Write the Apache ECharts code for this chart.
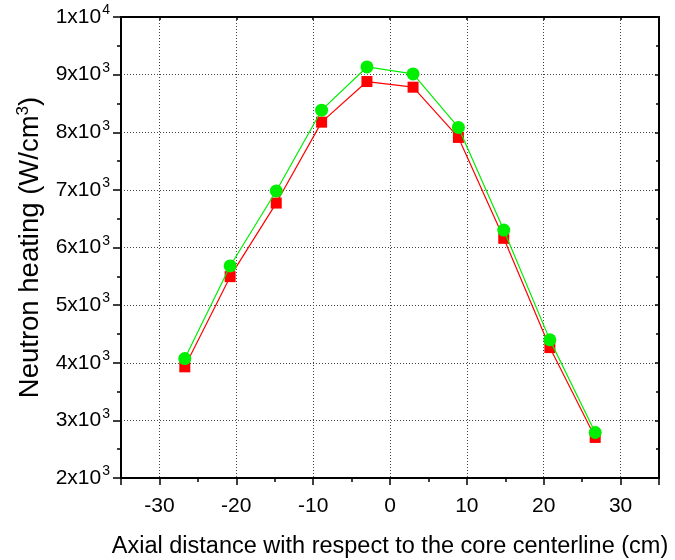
<!DOCTYPE html>
<html>
<head>
<meta charset="utf-8">
<script src="https://cdn.jsdelivr.net/npm/echarts@6/dist/echarts.min.js"></script>
<style>html,body{margin:0;padding:0;background:#fff;}#c{width:675px;height:560px;}</style>
</head>
<body>
<div id="c"></div>
<script>
const xValues = [-26.7, -20.8, -14.8, -8.9, -3, 3, 8.9, 14.8, 20.8, 26.7];
const greenValues = [4073, 5680, 6980, 8383, 9133, 9012, 8083, 6303, 4397, 2790];
const redValues = [3929, 5494, 6771, 8175, 8880, 8782, 7910, 6159, 4263, 2704];
const xTitle = 'Axial distance with respect to the core centerline (cm)';
const yTitleMain = 'Neutron heating (W/cm';

const FONT = 'Liberation Sans, Arial, sans-serif';
const chart = echarts.init(document.getElementById('c'), null, {renderer: 'canvas'});

function yLabel(v) {
  const e = Math.floor(Math.log10(v) + 1e-9);
  const m = Math.round(v / Math.pow(10, e));
  return '{b|' + m + 'x10}{s|' + e + '}';
}

const gridLine = {show: true, lineStyle: {color: '#444', width: 1, type: [1, 2]}};
const axisLineStyle = {show: true, onZero: false, lineStyle: {color: '#000', width: 2}};

chart.setOption({
  backgroundColor: '#fff',
  animation: false,
  grid: {left: 121, right: 16, top: 17, bottom: 82, containLabel: false, outerBoundsMode: 'none'},
  xAxis: [
    {
      type: 'value', min: -35, max: 35, splitNumber: 7, position: 'bottom',
      axisLine: axisLineStyle,
      axisTick: {show: true, inside: false, length: 7, lineStyle: {color: '#000', width: 1.5}},
      axisLabel: {show: true, margin: 18, fontFamily: FONT, fontSize: 21, color: '#000',
        formatter: v => (Math.abs(v % 10) < 1e-9 ? String(v) : '')},
      splitLine: gridLine,
      name: xTitle, nameLocation: 'middle', nameGap: 57,
      nameTextStyle: {fontFamily: FONT, fontSize: 23.5, color: '#000'}
    },
    {
      type: 'value', min: -35, max: 35, splitNumber: 7, position: 'top',
      axisLine: axisLineStyle,
      axisTick: {show: true, inside: true, length: 3, lineStyle: {color: '#000', width: 1.5}},
      axisLabel: {show: false}, splitLine: {show: false}
    },
    {
      type: 'value', min: -35, max: 35, interval: 5, position: 'bottom',
      axisLine: {show: false, onZero: false},
      axisTick: {show: true, inside: false, length: 4, lineStyle: {color: '#000', width: 1.5}},
      axisLabel: {show: false}, splitLine: {show: false}
    }
  ],
  yAxis: [
    {
      type: 'value', min: 2000, max: 10000, interval: 1000, position: 'left',
      axisLine: axisLineStyle,
      axisTick: {show: true, inside: false, length: 8, lineStyle: {color: '#000', width: 1.5}},
      minorTick: {show: true, splitNumber: 2, length: 4, lineStyle: {color: '#000', width: 1.5}},
      axisLabel: {show: true, margin: 11, formatter: yLabel,
        rich: {
          b: {fontFamily: FONT, fontSize: 21, color: '#000'},
          s: {fontFamily: FONT, fontSize: 14, color: '#000', padding: [0, 0, 13, 1]}
        }},
      splitLine: gridLine,
      name: '{a|' + yTitleMain + '}{s|3}{a|)}', nameLocation: 'middle', nameGap: 73,
      nameTextStyle: {
        rich: {
          a: {fontFamily: FONT, fontSize: 27.5, color: '#000'},
          s: {fontFamily: FONT, fontSize: 17, color: '#000', padding: [0, 0, 14, 0]}
        }
      }
    },
    {
      type: 'value', min: 2000, max: 10000, interval: 1000, position: 'right',
      axisLine: axisLineStyle,
      axisTick: {show: true, inside: true, length: 4, lineStyle: {color: '#000', width: 1.5}},
      minorTick: {show: true, splitNumber: 2, length: 3, lineStyle: {color: '#000', width: 1.5}},
      axisLabel: {show: false}, splitLine: {show: false}
    }
  ],
  series: [
    {
      type: 'line', name: 'red', xAxisIndex: 0, yAxisIndex: 0,
      data: xValues.map((x, i) => [x, redValues[i]]),
      symbol: 'rect', symbolSize: 11, showAllSymbol: true,
      lineStyle: {color: '#ff0000', width: 1.2},
      itemStyle: {color: '#ff0000'}, z: 3
    },
    {
      type: 'line', name: 'green', xAxisIndex: 0, yAxisIndex: 0,
      data: xValues.map((x, i) => [x, greenValues[i]]),
      symbol: 'circle', symbolSize: 13, showAllSymbol: true,
      lineStyle: {color: '#00ee00', width: 1.2},
      itemStyle: {color: '#00ee00'}, z: 4
    }
  ]
});
</script>
</body>
</html>
